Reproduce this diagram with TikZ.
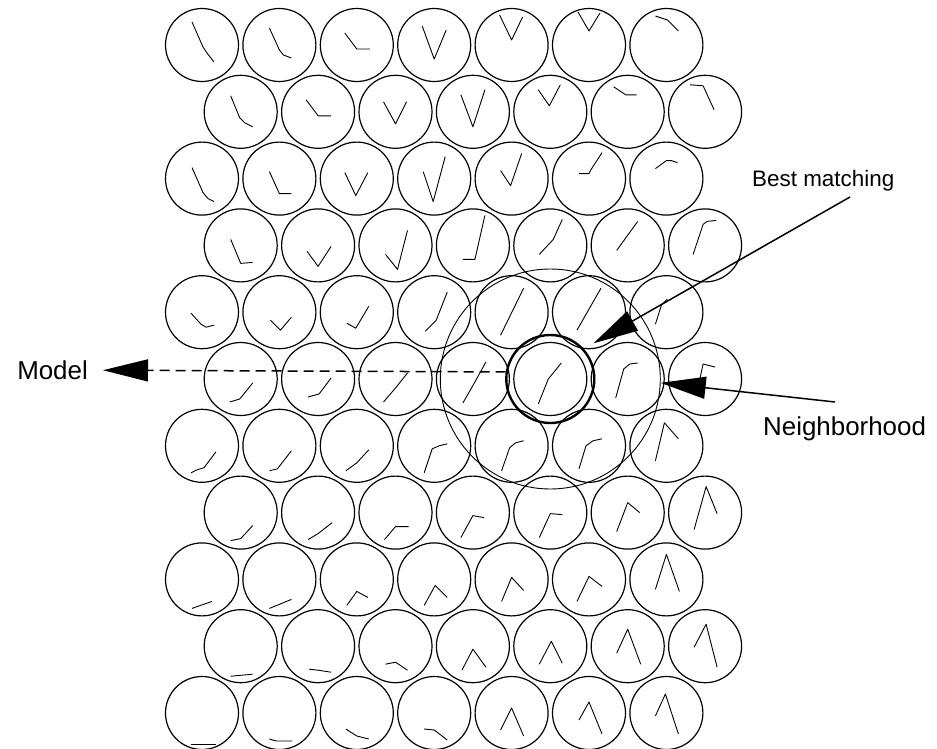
\documentclass[tikz,border=0pt]{standalone}
\usepackage{fontspec}
\setmainfont{Liberation Sans}
\usetikzlibrary{arrows.meta}

\tikzset{
    unit/.style={circle, draw, line width=1.2bp, minimum size=73bp, inner sep=0pt},
    proto/.style={line width=0.9bp, line join=round},
    tag/.style={font=\fontsize{26}{30}\selectfont, inner sep=0pt},
    pointer/.style={line width=1.5bp, -{Triangle[length=45bp,width=22bp]}},
}

\begin{document}
\begin{tikzpicture}[x=1bp, y=-1bp]
    \useasboundingbox (0,0) rectangle (937,749);

    \foreach \row in {0,...,10}
        \foreach \col in {0,...,6}
            \node[unit] (c-\row-\col) at ({202 + 77.4*\col + 38.7*mod(\row,2)}, {45 + 66.8*\row}) {};

    \foreach \row/\col/\trace in {
        0/0/{(-10,-23) -- (1,2) -- (5,8) -- (12,17)},
        0/1/{(-10,-17) -- (0,5) -- (4,10) -- (12,13)},
        0/2/{(-12,-12) -- (0,4) -- (13,4)},
        0/3/{(-12,-19) -- (0,14) -- (12,-15)},
        0/4/{(-12,-30) -- (0,-5) -- (11,-28)},
        0/5/{(-11,-33) -- (0,-14) -- (11,-32)},
        0/6/{(-11,-29) -- (1,-25) -- (12,-14)},
        1/0/{(-10,-16) -- (-1,6) -- (4,11) -- (12,15)},
        1/1/{(-12,-12) -- (0,4) -- (13,4)},
        1/2/{(-12,-10) -- (0,12) -- (11,-10)},
        1/3/{(-12,-17) -- (0,15) -- (12,-22)},
        1/4/{(-12,-22) -- (-1,-6) -- (10,-27)},
        1/5/{(-14,-25) -- (-2,-17) -- (9,-17)},
        1/6/{(-15,-27) -- (-2,-26) -- (9,-2)},
        2/0/{(-10,-11) -- (1,14) -- (6,20) -- (12,23)},
        2/1/{(-10,-7) -- (0,15) -- (12,15)},
        2/2/{(-12,-6) -- (-1,17) -- (11,-6)},
        2/3/{(-11,-7) -- (-1,23) -- (11,-22)},
        2/4/{(-11,-8) -- (-1,7) -- (10,-25)},
        2/5/{(-10,-5) -- (0,-5) -- (2,-9) -- (13,-26)},
        2/6/{(-11,-10) -- (0,-18) -- (5,-18) -- (11,-16)},
        3/0/{(-10,-6) -- (0,18) -- (12,17)},
        3/1/{(-11,6) -- (0,21) -- (13,1)},
        3/2/{(-10,9) -- (2,24) -- (12,-15)},
        3/3/{(-10,14) -- (2,14) -- (12,-30)},
        3/4/{(-11,9) -- (3,-6) -- (12,-26)},
        3/5/{(-11,5) -- (10,-24)},
        3/6/{(-12,9) -- (-2,-21) -- (2,-24) -- (11,-25)},
        4/0/{(-11,1) -- (-1,12) -- (4,15) -- (12,13)},
        4/1/{(-9,8) -- (1,18) -- (12,5)},
        4/2/{(-10,11) -- (-1,16) -- (12,-6)},
        4/3/{(-9,19) -- (2,8) -- (13,-20)},
        4/4/{(-11,23) -- (12,-24)},
        4/5/{(-12,18) -- (12,-24)},
        4/6/{(-11,12) -- (-5,-7) -- (1,-13)},
        5/0/{(-11,23) -- (-1,20) -- (12,4)},
        5/1/{(-10,18) -- (1,15) -- (13,-1)},
        5/2/{(-12,23) -- (0,9) -- (12,-6)},
        5/3/{(-10,24) -- (2,3) -- (13,-17)},
        5/4/{(-12,25) -- (-2,0) -- (11,-16)},
        5/5/{(-12,19) -- (-4,-10) -- (2,-15) -- (10,-16)},
        5/6/{(-7,8) -- (-2,-15) -- (10,-12)},
        6/0/{(-11,27) -- (-5,24) -- (2,22) -- (14,6)},
        6/1/{(-10,25) -- (-2,23) -- (12,5)},
        6/2/{(-11,25) -- (0,17) -- (12,4)},
        6/3/{(-10,27) -- (-2,3) -- (5,0) -- (13,-2)},
        6/4/{(-10,25) -- (-2,2) -- (4,-3) -- (12,-5)},
        6/5/{(-10,23) -- (-3,0) -- (4,-5) -- (13,-7)},
        6/6/{(-11,15) -- (-2,-23) -- (12,-7)},
        7/0/{(-10,28) -- (0,26) -- (12,13)},
        7/1/{(-10,27) -- (0,21) -- (14,10)},
        7/2/{(-11,27) -- (0,14) -- (13,14)},
        7/3/{(-12,25) -- (0,3) -- (11,5)},
        7/4/{(-11,25) -- (0,1) -- (12,2)},
        7/5/{(-11,19) -- (0,-10) -- (12,0)},
        7/6/{(-11,17) -- (1,-26) -- (12,1)},
        8/0/{(-10,29) -- (10,22)},
        8/1/{(-10,29) -- (12,20)},
        8/2/{(-10,26) -- (0,12) -- (11,18)},
        8/3/{(-10,26) -- (1,6) -- (13,18)},
        8/4/{(-10,22) -- (0,-2) -- (12,11)},
        8/5/{(-12,22) -- (0,-3) -- (13,7)},
        8/6/{(-11,10) -- (0,-25) -- (13,12)},
        9/0/{(-10,30) -- (12,28)},
        9/1/{(-9,23) -- (0,24) -- (13,26)},
        9/2/{(-10,18) -- (0,16) -- (12,24)},
        9/3/{(-11,24) -- (0,3) -- (13,21)},
        9/4/{(-11,18) -- (1,-5) -- (12,17)},
        9/5/{(-11,7) -- (0,-17) -- (13,18)},
        9/6/{(-11,1) -- (1,-22) -- (12,21)},
        10/0/{(-11,31) -- (14,31)},
        10/1/{(-10,26) -- (-3,28) -- (13,28)},
        10/2/{(-11,16) -- (0,23) -- (12,26)},
        10/3/{(-10,16) -- (0,17) -- (13,27)},
        10/4/{(-11,17) -- (0,-5) -- (12,23)},
        10/5/{(-10,7) -- (0,-11) -- (13,21)},
        10/6/{(-11,3) -- (-1,-19) -- (12,21)}}
        \draw[proto, shift={(c-\row-\col.center)}] \trace;

    \node[circle, draw, line width=2.4bp, minimum size=88bp] (bmu) at (c-5-4) {};
    \node[circle, draw, line width=0.9bp, minimum size=220bp] (hood) at (c-5-4) {};

    \node[tag, anchor=west, font=\fontsize{22.5}{27}\selectfont] (best) at (752,181) {Best matching};
    \node[tag, anchor=west] (neigh) at (763,429) {Neighborhood};
    \node[tag, anchor=east] (model) at (88,370) {Model};

    \coordinate (besttail) at (850,197);
    \coordinate (neightail) at (835,402);

    \draw[pointer] (besttail) -- (bmu.42) [shorten >=11bp];
    \draw[pointer] (neightail) -- (hood.-2);
    \draw[pointer, dash pattern=on 10bp off 6bp] (bmu.171) -- (model) [shorten >=15bp];
\end{tikzpicture}
\end{document}
